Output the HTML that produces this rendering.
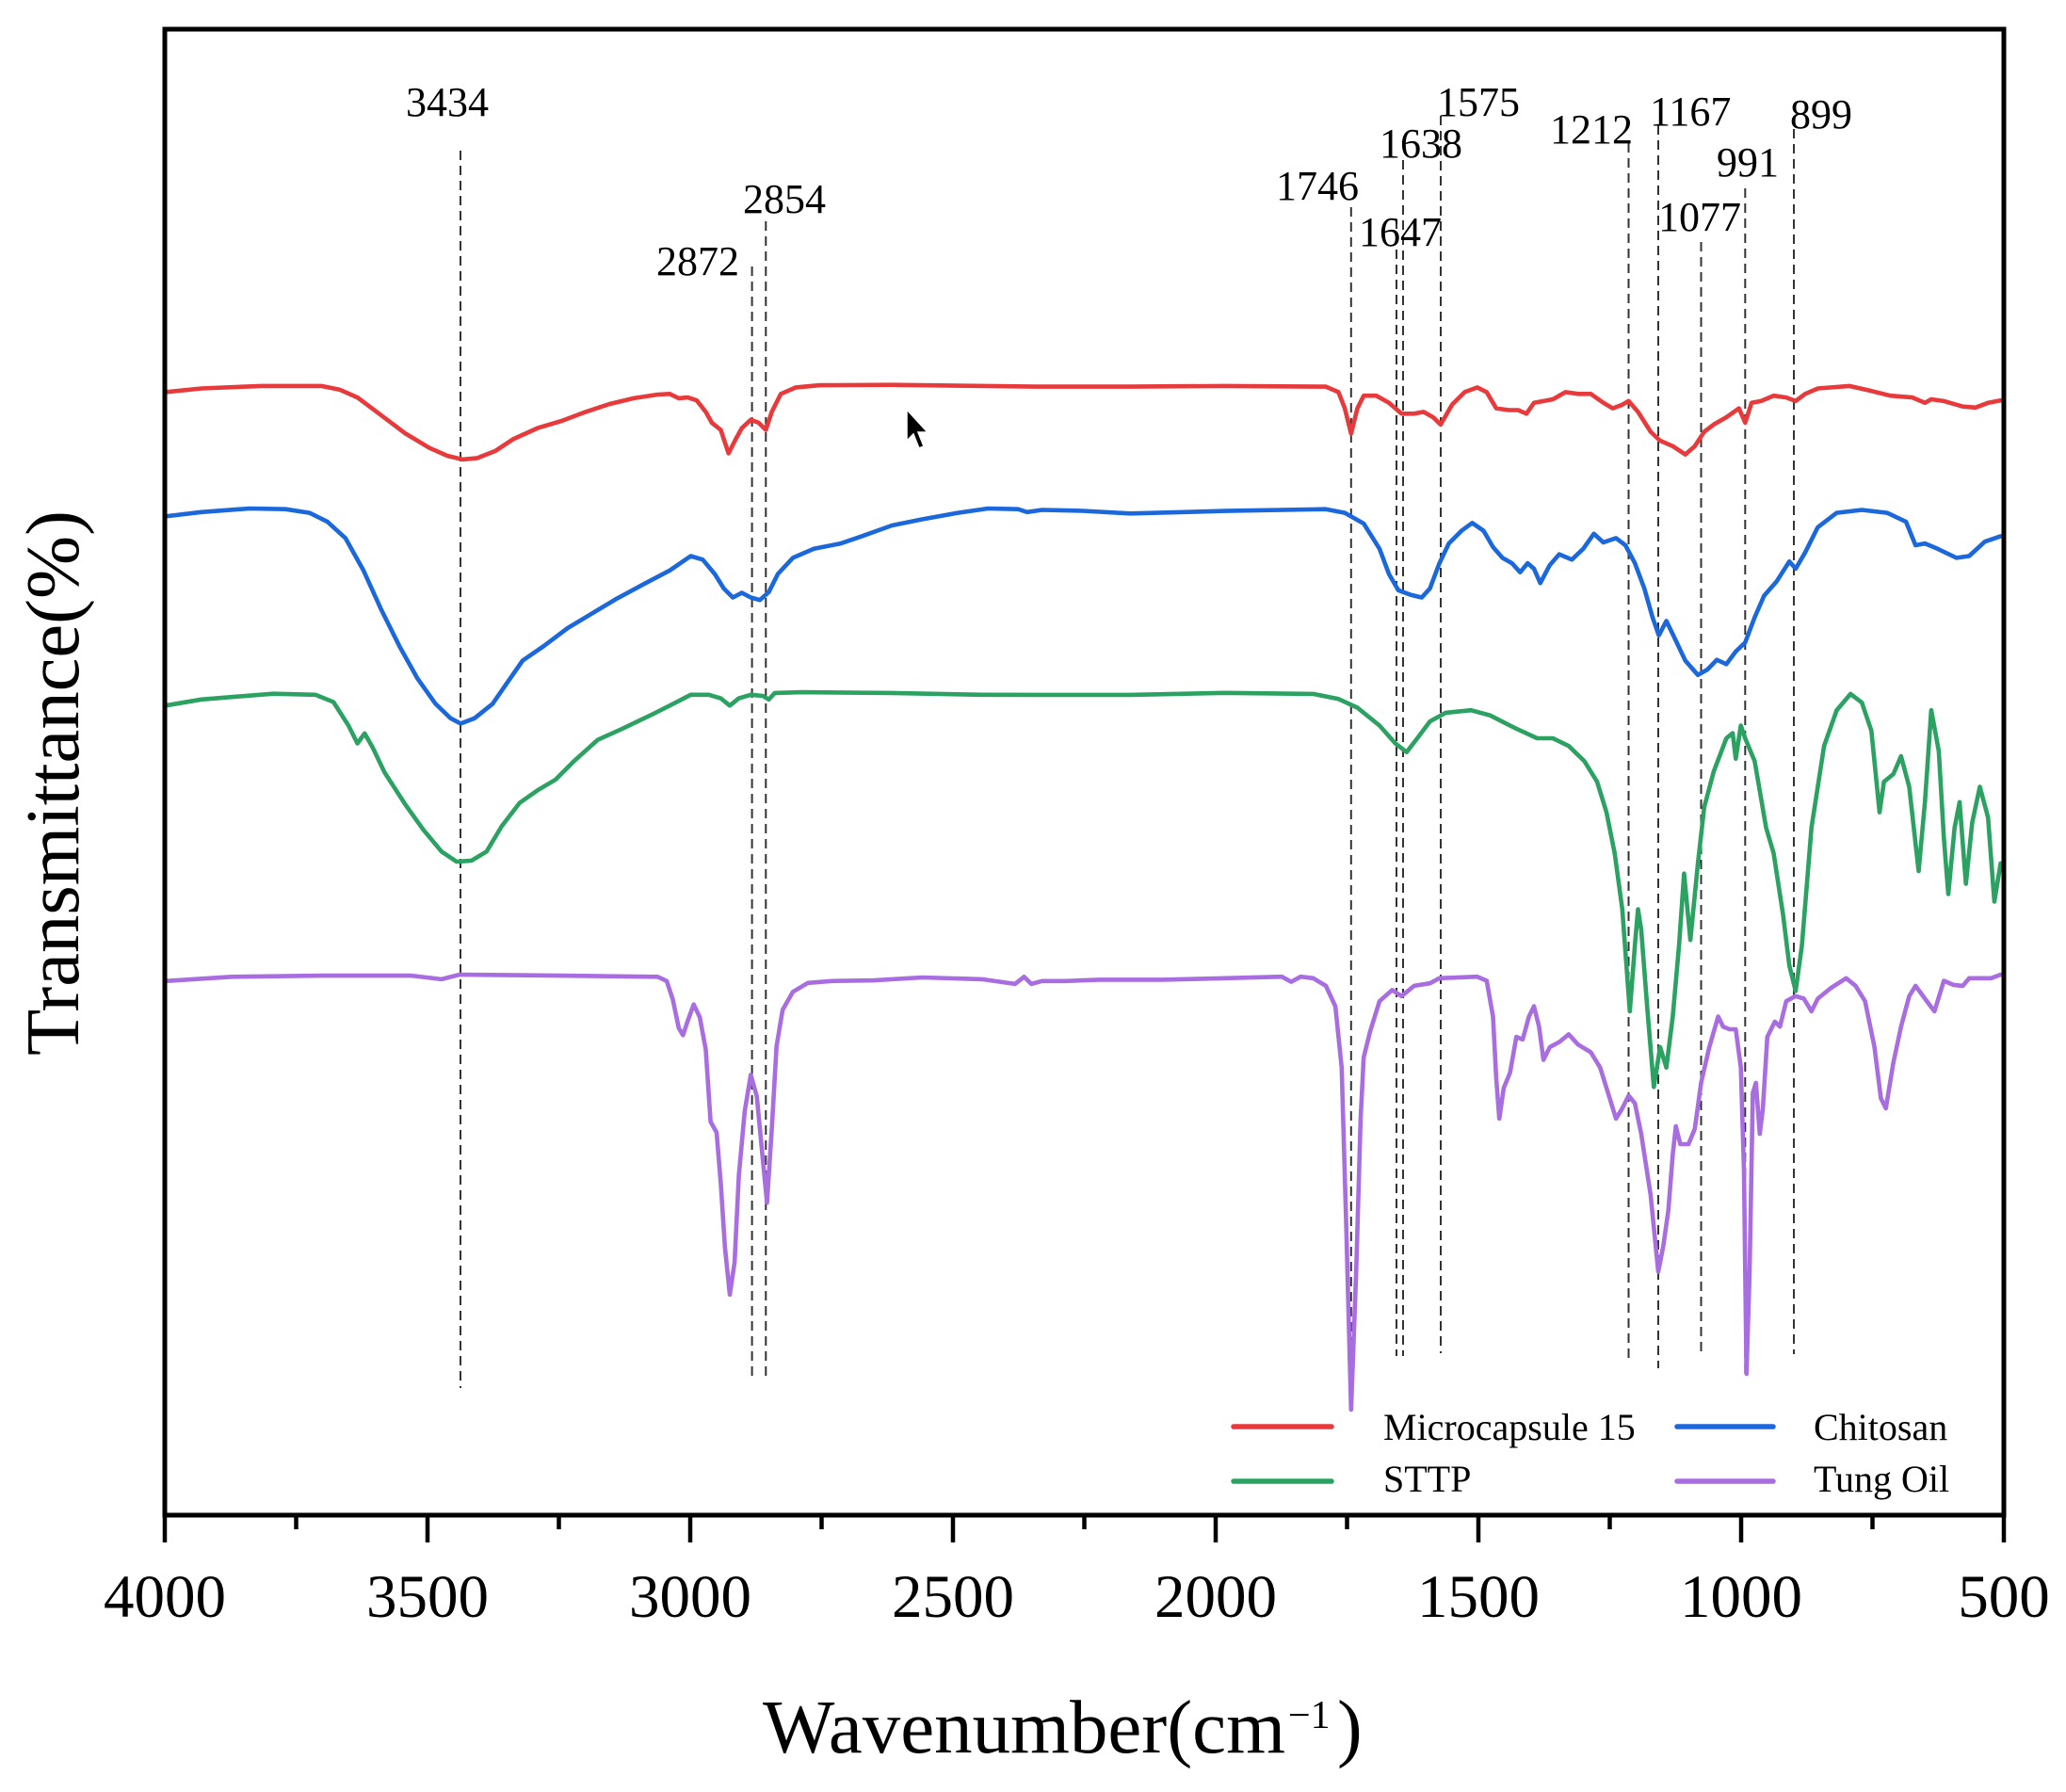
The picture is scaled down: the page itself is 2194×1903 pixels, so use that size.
<!DOCTYPE html>
<html><head><meta charset="utf-8"><style>
html,body{margin:0;padding:0;background:#fff;}
svg{display:block;}
text{font-family:"Liberation Serif","Times New Roman",serif;fill:#000;}
</style></head><body>
<svg width="2194" height="1903" viewBox="0 0 2194 1903" xmlns="http://www.w3.org/2000/svg">
<rect x="0" y="0" width="2194" height="1903" fill="#fff"/>

<!-- dashed reference lines -->
<g stroke="#333" stroke-width="2" stroke-dasharray="10,6" fill="none">
<line x1="489" y1="160" x2="489" y2="1474"/>
<line x1="798.6" y1="283" x2="798.6" y2="1461"/>
<line x1="813.3" y1="235" x2="813.3" y2="1466"/>
<line x1="1434.8" y1="220" x2="1434.8" y2="1490"/>
<line x1="1483" y1="233" x2="1483" y2="1440"/>
<line x1="1490" y1="170" x2="1490" y2="1440"/>
<line x1="1530" y1="123" x2="1530" y2="1437"/>
<line x1="1729.5" y1="152" x2="1729.5" y2="1447"/>
<line x1="1761" y1="133" x2="1761" y2="1453"/>
<line x1="1806.5" y1="257" x2="1806.5" y2="1437"/>
<line x1="1853.3" y1="200" x2="1853.3" y2="1459"/>
<line x1="1905" y1="137" x2="1905" y2="1438"/>
</g>

<!-- peak labels -->
<g font-size="44">
<text x="431" y="123">3434</text>
<text x="697" y="292">2872</text>
<text x="789" y="226">2854</text>
<text x="1355" y="212">1746</text>
<text x="1443" y="261">1647</text>
<text x="1465" y="167">1638</text>
<text x="1526" y="123">1575</text>
<text x="1646" y="152">1212</text>
<text x="1752" y="133">1167</text>
<text x="1823" y="187">991</text>
<text x="1761" y="245">1077</text>
<text x="1901" y="136">899</text>
</g>

<g fill="none" stroke-width="4.6" stroke-linejoin="round" stroke-linecap="round">
<!-- Red: Microcapsule 15 -->
<polyline stroke="#e8393b" points="
175.5,416.4 213.8,412.5 277.6,409.9 341.3,409.9 360.5,413.7 379.6,422.1 405.1,441.2 430.6,460.4 456.1,475.7 475.3,484.1 491.2,487.9 507.1,486.4 526.3,478.7 545.4,466.1 570.9,454.6 596.4,447.0 621.9,437.4 647.4,429.0 673.0,422.9 698.5,419.0 711.2,418.3 720.8,422.9 730.4,422.1 739.9,425.2 749.5,437.4 755.9,448.9 765.4,456.5 773.7,481.4 781.4,466.1 787.8,454.6 797.3,445.8 805.6,448.9 813.3,456.5 819.6,437.4 829.2,418.3 845.2,411.4 870.7,409.1 947.2,408.7 1100,410.6 1200.4,410.6 1300.9,409.9 1408.0,410.6 1421.4,416.4 1428.1,433.6 1434.8,460.4 1441.5,433.6 1448.2,420.2 1461.6,420.2 1475.0,427.8 1488.4,439.3 1501.8,439.3 1511.8,437.4 1521.9,443.1 1529.9,450.8 1542.0,429.8 1555.4,416.4 1568.8,411.4 1578.8,416.4 1588.9,433.6 1602.2,435.5 1612.3,435.5 1621.0,439.3 1629.0,427.8 1639.1,425.9 1649.1,424.0 1662.5,416.4 1675.9,418.3 1689.3,418.3 1702.7,427.8 1712.7,433.6 1722.8,429.8 1729.5,425.9 1739.5,437.4 1752.9,458.5 1763.0,468.0 1776.4,473.8 1789.7,482.6 1799.8,473.8 1809.8,458.5 1819.9,450.8 1833.3,443.1 1846.7,433.6 1853.3,448.9 1860.1,427.8 1870.1,425.9 1883.5,420.2 1896.9,422.1 1906.9,425.9 1917.0,418.3 1930.4,412.5 1963.9,409.9 1983.9,414.4 2007.4,420.2 2030.8,422.1 2044.2,427.8 2050.9,424.0 2064.3,425.9 2084.4,431.7 2097.8,432.8 2111.2,427.8 2124.6,425.2"/>

<!-- Blue: Chitosan -->
<polyline stroke="#1b67dc" points="
175.5,548.4 213.8,543.8 264.8,540.0 303.1,540.7 328.6,544.6 347.7,554.1 366.8,571.4 386.0,605.8 405.1,647.9 424.2,686.2 443.4,720.6 462.5,747.4 478.4,762.7 489.3,768.4 504.0,762.7 523.1,747.4 539.0,724.4 555.0,701.5 577.3,686.2 602.8,667.0 628.3,651.7 653.8,636.4 685.7,619.2 711.2,605.8 733.5,590.5 746.3,594.3 759.1,609.6 768.6,624.9 778.2,634.5 787.8,629.5 797.3,634.5 806.9,637.2 816.4,628.8 826.0,609.6 842.0,592.4 864.3,582.8 893.0,577.1 915.3,569.4 947.2,558.0 979.1,551.5 1017.3,544.6 1049.2,540.0 1081.1,540.7 1090.7,543.8 1106.6,541.5 1150,542.5 1200.4,545.3 1300.9,542.6 1408.0,540.7 1428.1,544.6 1448.2,556.0 1465.0,582.8 1475.0,609.6 1485.0,626.8 1498.4,631.8 1509.8,634.5 1518.5,624.9 1528.6,598.1 1538.6,577.1 1552.0,563.7 1563.4,555.3 1575.5,563.7 1585.5,580.9 1595.5,592.4 1605.6,598.1 1614.3,607.7 1622.3,598.1 1629.0,603.9 1635.7,619.2 1645.8,600.1 1655.8,588.6 1669.2,594.3 1681.3,582.8 1692.6,566.8 1702.7,576.0 1716.1,571.4 1726.1,579.0 1736.2,598.1 1746.2,624.9 1754.9,655.5 1761.6,674.7 1769.6,659.4 1779.7,680.4 1789.7,701.5 1803.1,716.8 1813.2,711.0 1823.2,700.7 1833.3,705.3 1843.3,691.9 1853.3,682.3 1863.4,655.5 1873.4,632.6 1886.8,617.3 1900.2,596.2 1906.9,603.9 1917.0,586.7 1930.4,559.9 1950.5,544.6 1977.2,541.5 2004.0,544.6 2024.1,554.1 2034.2,579.0 2044.2,577.1 2057.6,582.8 2077.7,592.4 2091.1,590.5 2107.8,575.2 2124.6,569.4"/>

<!-- Green: STTP -->
<polyline stroke="#2ba262" points="
175.5,749.3 213.8,742.8 252.0,739.7 290.3,736.7 334.9,737.8 354.1,745.5 370.0,770.4 379.6,789.5 387.2,778.8 395.5,793.3 408.3,820.1 430.6,854.6 449.7,881.3 468.9,904.3 484.8,915.0 500.8,913.9 516.7,904.3 532.7,877.5 551.8,852.6 570.9,839.2 590.1,827.8 609.2,808.6 634.7,785.7 660.2,774.2 692.1,758.9 711.2,749.3 733.5,737.8 752.7,737.8 765.4,741.6 775.0,749.3 784.6,741.6 797.3,737.8 810.1,739.0 816.4,742.8 822.8,735.9 851.5,735.1 947.2,735.9 1042.9,737.8 1100,737.9 1200.4,737.9 1300.9,735.8 1394.6,736.9 1421.4,742.3 1441.5,751.5 1465.0,770.5 1481.7,789.4 1493.8,798.7 1505.1,784.0 1518.5,766.1 1535.3,756.9 1562.1,754.2 1582.2,759.6 1608.9,773.2 1632.4,784.0 1649.1,784.0 1665.9,792.2 1682.6,808.4 1696.0,830.1 1706.0,862.6 1714.7,906.0 1722.8,965.6 1730.8,1074.0 1736.2,1003.6 1739.5,965.6 1742.9,987.3 1749.6,1074.0 1756.3,1154.3 1763.0,1112.0 1769.6,1133.7 1776.4,1079.5 1783.1,1003.6 1788.4,927.7 1795.1,998.2 1803.1,916.8 1809.8,857.2 1819.9,819.3 1833.3,784.0 1840.0,778.6 1843.3,805.7 1848.7,770.5 1853.3,784.0 1863.4,808.4 1875.5,878.9 1883.5,906.0 1893.5,971.1 1900.2,1025.3 1906.9,1052.4 1913.6,1003.6 1923.7,878.9 1937.1,792.2 1950.5,754.2 1965.2,736.9 1977.2,746.1 1987.3,775.9 1996.0,862.6 2000.7,830.1 2010.7,822.0 2018.8,803.0 2027.5,835.5 2037.5,925.0 2044.2,851.8 2050.9,754.2 2058.9,797.6 2064.3,889.7 2069.0,949.4 2075.7,878.9 2081.0,851.8 2087.7,938.5 2094.4,873.5 2102.5,835.5 2111.2,868.0 2117.9,957.5 2124.6,916.8"/>

<!-- Purple: Tung Oil -->
<polyline stroke="#a86de0" points="
175.5,1041.8 245.7,1037.3 341.3,1036.1 437.0,1036.1 468.9,1039.9 488.0,1035.0 596.4,1036.1 698.5,1037.3 708.0,1041.8 714.4,1061.0 720.8,1091.6 725.3,1099.3 730.4,1083.9 736.7,1066.7 743.1,1080.1 749.5,1114.6 754.6,1191.1 761.0,1202.6 765.4,1256.2 769.9,1325.0 775.0,1374.8 780.1,1340.4 784.6,1248.5 790.9,1179.6 797.3,1141.4 803.7,1164.3 808.8,1217.9 814.5,1277.2 819.6,1198.8 824.7,1110.7 831.1,1072.5 842.0,1053.3 857.9,1043.8 883.4,1041.8 928.1,1041.1 979.1,1038.0 1042.9,1039.9 1077.9,1044.9 1087.5,1037.3 1095.2,1044.9 1106.6,1041.8 1132.1,1041.8 1167.0,1040.4 1233.9,1040.4 1300.9,1038.8 1361.2,1037.2 1371.2,1042.6 1381.3,1037.2 1394.6,1038.8 1408.0,1046.9 1418.1,1068.6 1424.8,1133.7 1429.5,1296.3 1434.8,1496.9 1440.2,1350.5 1444.9,1187.9 1448.2,1122.8 1454.9,1095.7 1465.0,1063.2 1478.4,1051.3 1488.4,1057.8 1501.8,1046.9 1518.5,1044.2 1528.6,1038.8 1568.8,1037.2 1578.8,1041.5 1585.5,1079.5 1588.9,1144.5 1592.2,1187.9 1596.9,1155.4 1603.6,1139.1 1610.3,1101.1 1617.0,1103.9 1623.7,1079.5 1629.0,1068.6 1634.4,1090.3 1639.1,1125.5 1645.8,1112.0 1655.8,1106.6 1665.9,1098.4 1675.9,1109.3 1689.3,1117.4 1699.3,1133.7 1709.4,1166.2 1716.1,1187.9 1722.8,1177.0 1729.5,1163.5 1736.2,1171.6 1742.9,1204.1 1752.9,1269.2 1761.0,1350.5 1766.3,1323.4 1771.7,1285.5 1776.4,1225.8 1779.7,1196.0 1784.4,1215.0 1793.1,1215.0 1799.8,1198.7 1806.5,1149.9 1815.2,1112.0 1824.6,1079.5 1829.9,1090.3 1836.6,1093.0 1843.3,1093.0 1848.7,1133.7 1852.0,1242.1 1854.7,1458.9 1858.0,1350.5 1861.4,1160.8 1864.7,1149.9 1868.8,1204.1 1872.1,1177.0 1876.8,1101.1 1884.8,1084.9 1890.2,1090.3 1896.9,1063.2 1906.9,1057.8 1915.6,1060.5 1923.7,1074.0 1930.4,1060.5 1943.8,1049.6 1960.5,1038.8 1970.6,1046.9 1980.6,1063.2 1990.6,1112.0 1997.4,1166.2 2002.7,1177.0 2010.7,1128.3 2018.8,1090.3 2027.5,1057.8 2034.2,1046.9 2044.2,1060.5 2054.3,1074.0 2064.3,1041.5 2074.4,1045.9 2084.4,1046.9 2091.1,1038.8 2104.5,1038.8 2114.5,1038.8 2124.6,1035.0"/>
</g>

<!-- cursor arrow -->
<polygon points="963,435 963,468 970,461 976,476 981,474 975,459 985,459" fill="#000" stroke="#fff" stroke-width="1.5"/>

<!-- legend -->
<g stroke-width="5.5" stroke-linecap="round">
<line x1="1310" y1="1515" x2="1414" y2="1515" stroke="#e8393b"/>
<line x1="1781" y1="1515" x2="1883" y2="1515" stroke="#1b67dc"/>
<line x1="1310" y1="1573" x2="1414" y2="1573" stroke="#2ba262"/>
<line x1="1781" y1="1573" x2="1883" y2="1573" stroke="#a86de0"/>
</g>
<g font-size="40">
<text x="1469" y="1529">Microcapsule 15</text>
<text x="1926" y="1529">Chitosan</text>
<text x="1469" y="1584">STTP</text>
<text x="1926" y="1584">Tung Oil</text>
</g>

<!-- frame -->
<rect x="175" y="31" width="1953" height="1578" fill="none" stroke="#000" stroke-width="5"/>

<!-- ticks -->
<g stroke="#000" stroke-width="4.5">
<line x1="175" y1="1609" x2="175" y2="1638"/>
<line x1="454" y1="1609" x2="454" y2="1638"/>
<line x1="733" y1="1609" x2="733" y2="1638"/>
<line x1="1012" y1="1609" x2="1012" y2="1638"/>
<line x1="1291" y1="1609" x2="1291" y2="1638"/>
<line x1="1570" y1="1609" x2="1570" y2="1638"/>
<line x1="1849" y1="1609" x2="1849" y2="1638"/>
<line x1="2128" y1="1609" x2="2128" y2="1638"/>
<line x1="314.5" y1="1609" x2="314.5" y2="1624"/>
<line x1="593.5" y1="1609" x2="593.5" y2="1624"/>
<line x1="872.5" y1="1609" x2="872.5" y2="1624"/>
<line x1="1151.5" y1="1609" x2="1151.5" y2="1624"/>
<line x1="1430.5" y1="1609" x2="1430.5" y2="1624"/>
<line x1="1709.5" y1="1609" x2="1709.5" y2="1624"/>
<line x1="1988.5" y1="1609" x2="1988.5" y2="1624"/>
</g>
<g font-size="65" text-anchor="middle">
<text x="175" y="1717">4000</text>
<text x="454" y="1717">3500</text>
<text x="733" y="1717">3000</text>
<text x="1012" y="1717">2500</text>
<text x="1291" y="1717">2000</text>
<text x="1570" y="1717">1500</text>
<text x="1849" y="1717">1000</text>
<text x="2128" y="1717">500</text>
</g>

<!-- axis titles -->
<text x="810" y="1861" font-size="80" textLength="555" lengthAdjust="spacingAndGlyphs">Wavenumber(cm</text>
<text x="1368" y="1835" font-size="42">−1</text>
<text x="1420" y="1861" font-size="80">)</text>

<text transform="translate(83,1121) rotate(-90)" x="0" y="0" font-size="80" textLength="579" lengthAdjust="spacingAndGlyphs">Transmittance(%)</text>
</svg>
</body></html>
